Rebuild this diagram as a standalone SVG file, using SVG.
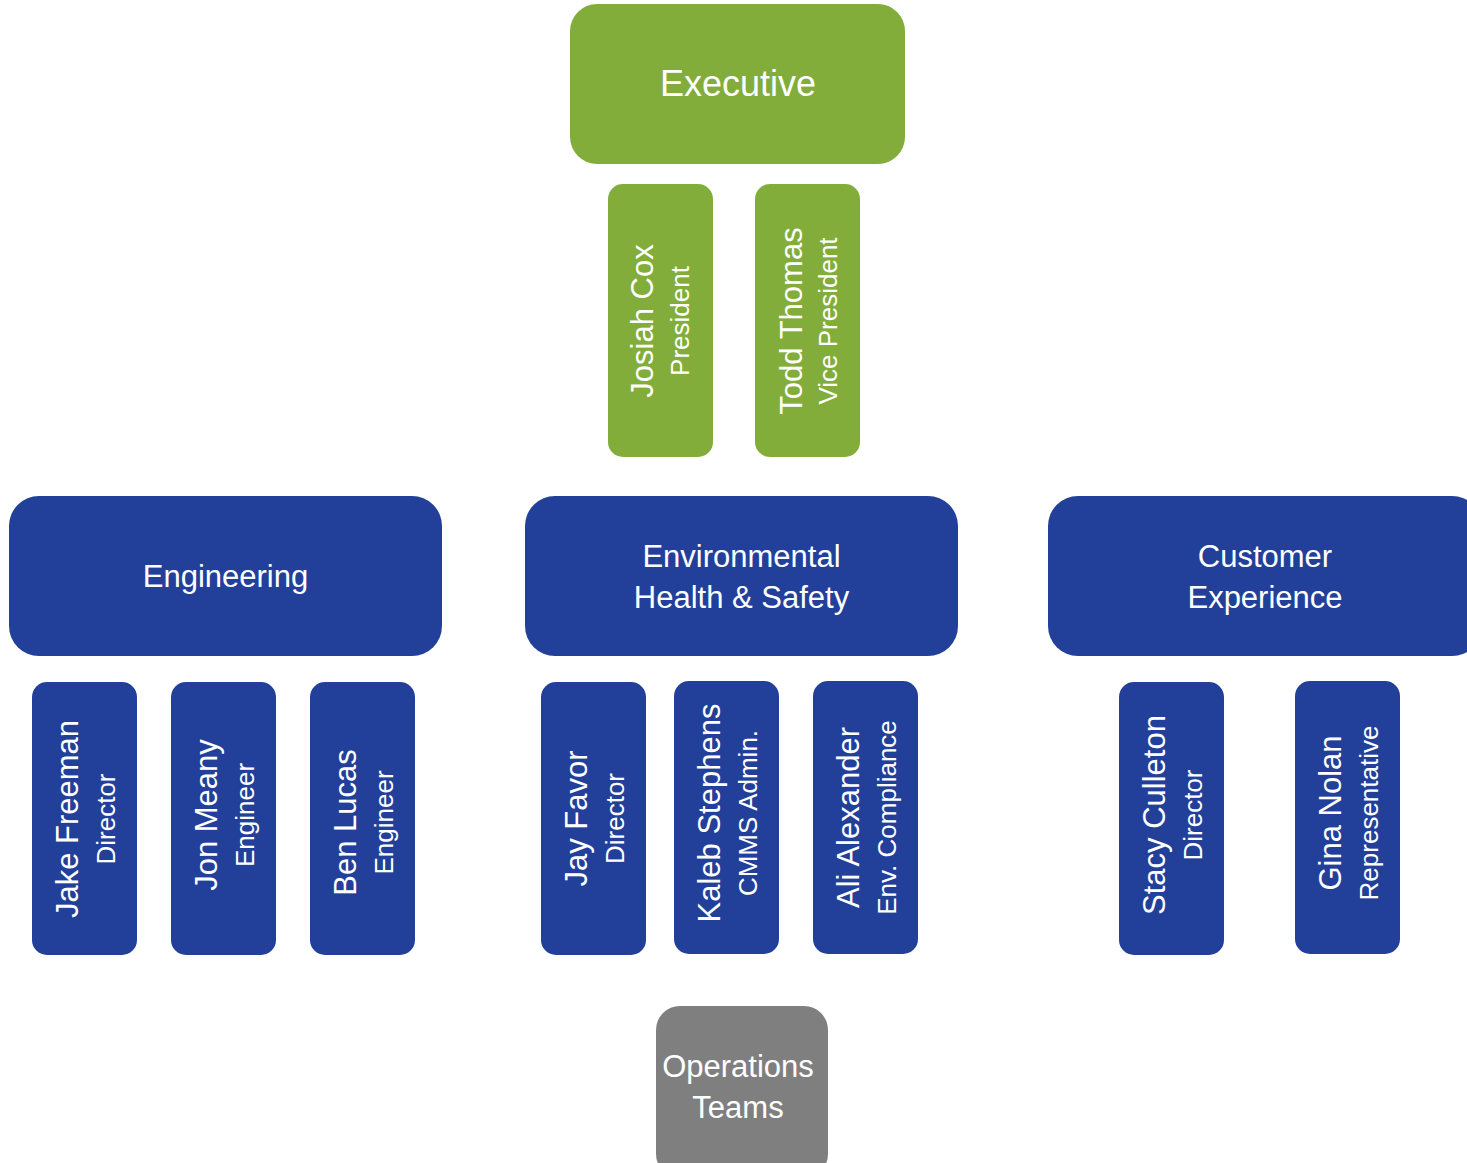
<svg xmlns="http://www.w3.org/2000/svg" width="1467" height="1163" viewBox="0 0 1467 1163">
<style>
text{font-family:"Liberation Sans",Arial,sans-serif;fill:#fff;text-anchor:middle}
.g{fill:#82AD3A}.b{fill:#22409A}.k{fill:#7F7F7F}
.h{font-size:31px}.x{font-size:36px}
.n{font-size:31px}.t{font-size:26px}
</style>
<rect width="1467" height="1163" fill="#fff"/>
<g id="connectors"/>
<g id="executive"><rect class="g" x="570" y="4" width="335" height="160" rx="27"/><text class="x" x="738" y="96">Executive</text></g>
<g id="josiah-cox"><rect class="g" x="608" y="184" width="105" height="273" rx="15"/><g transform="translate(660.5,321) rotate(-90)"><text class="n" x="0" y="-8">Josiah Cox</text><text class="t" x="0" y="28">President</text></g></g>
<g id="todd-thomas"><rect class="g" x="755" y="184" width="105" height="273" rx="15"/><g transform="translate(807.5,321) rotate(-90)"><text class="n" x="0" y="-6">Todd Thomas</text><text class="t" x="0" y="29">Vice President</text></g></g>
<g id="engineering"><rect class="b" x="9" y="496" width="433" height="160" rx="30"/><text class="h" x="225.5" y="587">Engineering</text></g>
<g id="ehs"><rect class="b" x="525" y="496" width="433" height="160" rx="30"/><text class="h" x="741.5" y="567">Environmental</text><text class="h" x="741.5" y="608">Health &amp; Safety</text></g>
<g id="customer-experience"><rect class="b" x="1048" y="496" width="434" height="160" rx="30"/><text class="h" x="1265" y="567">Customer</text><text class="h" x="1265" y="608">Experience</text></g>
<g id="jake-freeman"><rect class="b" x="32" y="682" width="105" height="273" rx="15"/><g transform="translate(84.5,819) rotate(-90)"><text class="n" x="0" y="-7">Jake Freeman</text><text class="t" x="0" y="30">Director</text></g></g>
<g id="jon-meany"><rect class="b" x="171" y="682" width="105" height="273" rx="15"/><g transform="translate(223.5,815) rotate(-90)"><text class="n" x="0" y="-7">Jon Meany</text><text class="t" x="0" y="30">Engineer</text></g></g>
<g id="ben-lucas"><rect class="b" x="310" y="682" width="105" height="273" rx="15"/><g transform="translate(362.5,822.5) rotate(-90)"><text class="n" x="0" y="-7">Ben Lucas</text><text class="t" x="0" y="30">Engineer</text></g></g>
<g id="jay-favor"><rect class="b" x="541" y="682" width="105" height="273" rx="15"/><g transform="translate(593.5,818.5) rotate(-90)"><text class="n" x="0" y="-7">Jay Favor</text><text class="t" x="0" y="30">Director</text></g></g>
<g id="kaleb-stephens"><rect class="b" x="674" y="681" width="105" height="273" rx="15"/><g transform="translate(726.5,813) rotate(-90)"><text class="n" x="0" y="-7">Kaleb Stephens</text><text class="t" x="0" y="30">CMMS Admin.</text></g></g>
<g id="ali-alexander"><rect class="b" x="813" y="681" width="105" height="273" rx="15"/><g transform="translate(865.5,817.5) rotate(-90)"><text class="n" x="0" y="-7">Ali Alexander</text><text class="t" x="0" y="30">Env. Compliance</text></g></g>
<g id="stacy-culleton"><rect class="b" x="1119" y="682" width="105" height="273" rx="15"/><g transform="translate(1171.5,815) rotate(-90)"><text class="n" x="0" y="-7">Stacy Culleton</text><text class="t" x="0" y="30">Director</text></g></g>
<g id="gina-nolan"><rect class="b" x="1295" y="681" width="105" height="273" rx="15"/><g transform="translate(1347.5,813) rotate(-90)"><text class="n" x="0" y="-7">Gina Nolan</text><text class="t" x="0" y="30">Representative</text></g></g>
<g id="operations-teams"><rect class="k" x="656" y="1006" width="172" height="172" rx="24"/><text class="h" x="738" y="1077">Operations</text><text class="h" x="738" y="1118">Teams</text></g>
</svg>
